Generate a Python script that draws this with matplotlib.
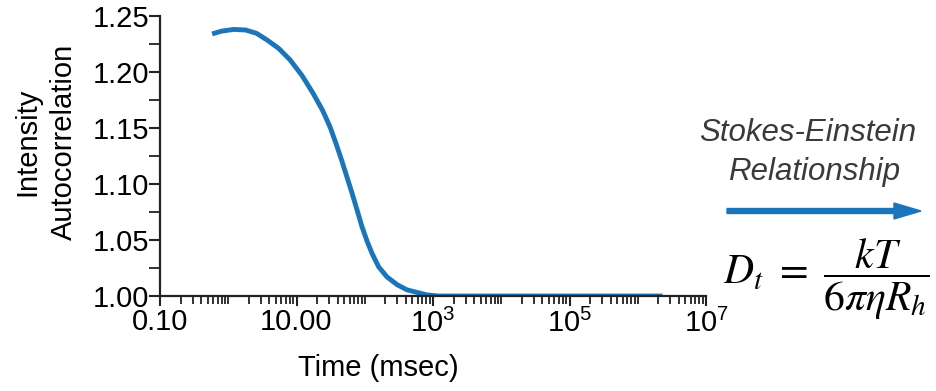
import matplotlib
matplotlib.use("Agg")
import matplotlib.pyplot as plt
from matplotlib.patches import FancyArrow
from matplotlib.ticker import FixedLocator, LogLocator, NullFormatter, FixedFormatter

# values
time_ms = [0.58, 0.8, 1.2, 1.8, 2.6, 3.7, 5.5, 8.0, 12.0, 17.5, 24.0, 31.0, 38.0,
           46.0, 55.0, 65.0, 77.0, 91.0, 108.0, 128.0, 160.0, 212.0, 300.0, 416.0,
           600.0, 817.0, 1200.0, 1e4, 1e5, 1e6, 2.3e6]
autocorr = [1.234, 1.2365, 1.238, 1.2375, 1.2345, 1.2286, 1.221, 1.211, 1.197, 1.181,
            1.166, 1.151, 1.136, 1.121, 1.106, 1.092, 1.077, 1.062, 1.049, 1.038,
            1.026, 1.017, 1.010, 1.0055, 1.003, 1.001, 1.000, 1.000, 1.000, 1.000,
            1.000]

x_ticks = [0.1, 10.0, 1e3, 1e5, 1e7]
x_tick_labels = ["0.10", "10.00", r"10$^3$", r"10$^5$", r"10$^7$"]
y_ticks = [1.00, 1.05, 1.10, 1.15, 1.20, 1.25]
y_minor = [1.025, 1.075, 1.125, 1.175, 1.225]

BLUE = "#1b75bb"
INK = "#222222"

plt.rcParams["font.family"] = ["Liberation Sans", "DejaVu Sans"]
plt.rcParams["mathtext.fontset"] = "custom"
plt.rcParams["mathtext.rm"] = "Liberation Sans"

W, H = 937, 391
fig = plt.figure(figsize=(W / 100, H / 100), dpi=100)
ax = fig.add_axes([160 / W, 1 - 296 / H, (706 - 160) / W, (296 - 16) / H])

ax.plot(time_ms, autocorr, color=BLUE, linewidth=3.5, solid_capstyle="butt",
        solid_joinstyle="round")

ax.set_xscale("log")
ax.set_xlim(0.1, 1e7)
ax.set_ylim(1.0, 1.25)

ax.xaxis.set_major_locator(FixedLocator(x_ticks))
ax.xaxis.set_major_formatter(FixedFormatter(x_tick_labels))
ax.xaxis.set_minor_locator(LogLocator(base=10, subs=[1, 2, 3, 4, 5, 6, 7, 8, 9], numticks=20))
ax.xaxis.set_minor_formatter(NullFormatter())

ax.set_yticks(y_ticks)
ax.set_yticklabels([f"{v:.2f}" for v in y_ticks])
ax.yaxis.set_minor_locator(FixedLocator(y_minor))

for side in ("top", "right"):
    ax.spines[side].set_visible(False)
for side in ("left", "bottom"):
    ax.spines[side].set_linewidth(1.6)
    ax.spines[side].set_color(INK)

ax.tick_params(axis="both", which="major", direction="out", length=7, width=1.5,
               labelsize=21, color=INK, pad=2)
ax.tick_params(axis="both", which="minor", direction="out", length=6, width=1.3,
               color=INK)
ax.tick_params(axis="y", which="both", length=8, pad=0)

ax.set_xlabel("Time (msec)", fontsize=21, va="top")
ax.xaxis.set_label_coords((378 - 160) / 546, (296 - 354) / 280)
ax.set_ylabel("Intensity\nAutocorrelation", fontsize=21, linespacing=1.4)
ax.yaxis.set_label_coords((78 - 160) / 546, (296 - 142) / 280)

# Stokes-Einstein annotation
fig.text(808 / W, 1 - 133 / H, "Stokes-Einstein", fontsize=22.5, style="italic",
         color="#3a3a3a", ha="center", va="center")
fig.text(814 / W, 1 - 172 / H, "Relationship", fontsize=22.5, style="italic",
         color="#3a3a3a", ha="center", va="center")
fig.patches.append(FancyArrow(
    727 / W, 1 - 211 / H, (894 - 727) / W, 0, width=5 / H, head_width=16 / H,
    head_length=27 / W, length_includes_head=False, color=BLUE,
    transform=fig.transFigure, figure=fig))

fig.text(826 / W, 1 - 279 / H, r"$D_t\ =\ \dfrac{kT}{6\pi\eta R_h}$",
         fontsize=30, ha="center", va="center", math_fontfamily="stix")

fig.savefig("out.png", dpi=100)
